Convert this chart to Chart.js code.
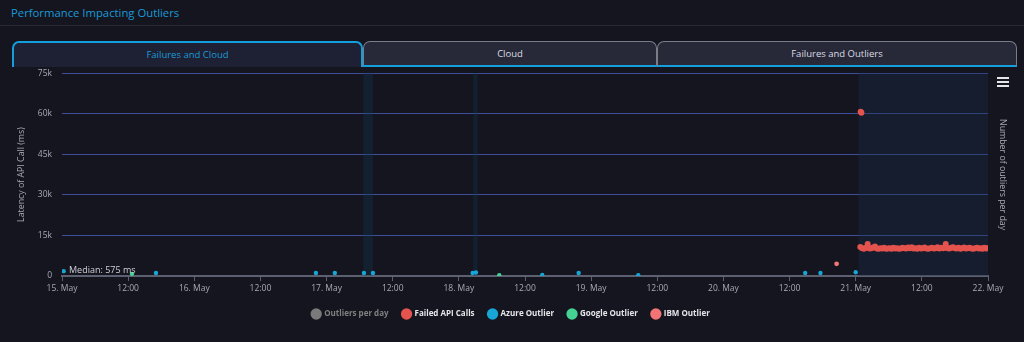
<!DOCTYPE html>
<html>
<head>
<meta charset="utf-8">
<script src="https://cdn.jsdelivr.net/npm/chart.js@4.4.1/dist/chart.umd.min.js"></script>
<style>
    html, body { margin: 0; padding: 0; background: #14151f; width: 1024px; height: 342px; overflow: hidden; font-family: 'Open Sans', sans-serif; }
    .title { position: absolute; left: 11px; top: 5px; color: #1a9ad6; font-size: 11.3px; }
    .divider { position: absolute; left: 0; top: 25px; width: 1024px; height: 1px; background: #262836; }
    .tab { position: absolute; top: 41px; height: 26px; box-sizing: border-box; text-align: center; line-height: 24px; font-size: 9.5px; border-radius: 7px 7px 0 0; z-index: 2; }
    .tab.active { background: #1e2033; border: 2px solid #129fdc; border-bottom: none; color: #1a9ad6; }
    .tab.idle { background: #272939; border: 1px solid #7a7c88; border-bottom: 2px solid #129fdc; color: #dcdce2; }
    .menu { position: absolute; left: 997px; top: 77px; width: 12px; z-index: 2; }
    .menu div { height: 2px; background: #e6e6ea; margin-bottom: 2px; }
    #wrap { position: absolute; left: 0; top: 58px; width: 1024px; height: 284px; }
</style>
</head>
<body>
<div id="wrap"><canvas id="chart" width="1024" height="284"></canvas></div>
<div class="title">Performance Impacting Outliers</div>
<div class="divider"></div>
<div class="tab active" style="left:12px; width:351px;">Failures and Cloud</div>
<div class="tab idle" style="left:363px; width:294px;">Cloud</div>
<div class="tab idle" style="left:657px; width:360px;">Failures and Outliers</div>
<div class="menu"><div></div><div></div><div></div></div>

<script>
// times are "DD HH:MM" in May
const azureTimes = ['15 00:18', '15 17:03', '16 22:04', '17 01:30', '17 06:47', '17 08:25', '18 02:30', '18 03:06', '18 15:08', '18 21:44', '19 08:33', '20 14:50', '20 17:36', '21 00:00'];
const azureValues = [1800, 1100, 1100, 1100, 1100, 1100, 1100, 1300, 400, 1100, 300, 1100, 1100, 1400];

const googleTimes = ['15 12:42', '18 07:20'];
const googleValues = [800, 250];

const ibmTimes = ['20 20:32'];
const ibmValues = [4500];

const failedTimes = ['21 00:54', '21 01:02',
    '21 00:50', '21 01:10', '21 01:30', '21 01:50', '21 02:10', '21 02:30', '21 02:50', '21 03:10', '21 03:30', '21 03:50',
    '21 04:10', '21 04:30', '21 04:50', '21 05:10', '21 05:30', '21 05:50', '21 06:10', '21 06:30', '21 06:50', '21 07:10',
    '21 07:30', '21 07:50', '21 08:10', '21 08:30', '21 08:50', '21 09:10', '21 09:30', '21 09:50', '21 10:10', '21 10:30',
    '21 10:50', '21 11:10', '21 11:30', '21 11:50', '21 12:10', '21 12:30', '21 12:50', '21 13:10', '21 13:30', '21 13:50',
    '21 14:10', '21 14:30', '21 14:50', '21 15:10', '21 15:30', '21 15:50', '21 16:10', '21 16:20', '21 16:40', '21 17:00',
    '21 17:20', '21 17:40', '21 18:00', '21 18:20', '21 18:40', '21 19:00', '21 19:20', '21 19:40', '21 20:00', '21 20:20',
    '21 20:40', '21 21:00', '21 21:20', '21 21:40', '21 22:00', '21 22:20', '21 22:40', '21 23:00', '21 23:20', '21 23:40', '21 23:55'];
const failedValues = [60700, 60300,
    10700, 10300, 10100, 10400, 11800, 10200, 10300, 10500, 10900, 10200,
    10100, 10300, 10200, 10400, 10100, 10200, 10300, 10100, 10400, 10200,
    10300, 10100, 10200, 10400, 10300, 10200, 10500, 10300, 10600, 10200,
    10300, 10100, 10400, 10200, 10300, 10500, 10200, 10100, 10300, 10400,
    10200, 10300, 10600, 10200, 10400, 10300, 10500, 11800, 10300, 10200,
    10400, 10600, 10300, 10200, 10400, 10100, 10300, 10500, 10200, 10300,
    10400, 10200, 10100, 10300, 10400, 10200, 10300, 10100, 10400, 10200, 10300];

// shaded periods
const bandStarts = ['17 06:40', '18 02:36', '21 00:30'];
const bandEnds = ['17 08:25', '18 03:24', '22 00:00'];

const yTicks = [0, 15000, 30000, 45000, 60000, 75000];
const medianValue = 575;

// hours since 15 May 00:00
function toHours(s) {
    const parts = s.split(' ');
    const hm = parts[1].split(':');
    return (parseInt(parts[0]) - 15) * 24 + parseInt(hm[0]) + parseInt(hm[1]) / 60;
}

function toPoints(times, values) {
    return times.map((t, i) => ({ x: toHours(t), y: values[i] }));
}

const bandsPlugin = {
    id: 'bands',
    beforeDatasetsDraw(chart) {
        const ctx = chart.ctx;
        const xs = chart.scales.x;
        const area = chart.chartArea;
        ctx.save();
        bandStarts.forEach((s, i) => {
            const x1 = xs.getPixelForValue(toHours(s));
            const x2 = xs.getPixelForValue(toHours(bandEnds[i]));
            ctx.fillStyle = i < 2 ? 'rgba(20, 60, 90, 0.3)' : 'rgba(25, 45, 75, 0.35)';
            ctx.fillRect(x1, area.top, x2 - x1, area.bottom - area.top);
        });
        ctx.restore();
    },
    afterDatasetsDraw(chart) {
        const ctx = chart.ctx;
        const x = chart.scales.x.getPixelForValue(0) + 7;
        const y = chart.scales.y.getPixelForValue(medianValue) - 4;
        ctx.save();
        ctx.font = "9px 'Open Sans', sans-serif";
        ctx.fillStyle = '#cfd0d6';
        ctx.textBaseline = 'middle';
        ctx.fillText('Median: ' + medianValue + ' ms', x, y);
        ctx.restore();
    }
};

Chart.defaults.font.family = "'Open Sans', sans-serif";
Chart.defaults.color = '#a9aab3';

const ctx = document.getElementById('chart').getContext('2d');
const outlierChart = new Chart(ctx, {
    type: 'scatter',
    data: {
        datasets: [
            { label: 'Outliers per day', data: [], backgroundColor: '#7a7a7a', borderColor: '#7a7a7a', hidden: true, yAxisID: 'y2' },
            { label: 'Failed API Calls', data: toPoints(failedTimes, failedValues), backgroundColor: '#e4534d', borderColor: '#e4534d', pointRadius: 3, pointBorderWidth: 0, yAxisID: 'y' },
            { label: 'Azure Outlier', data: toPoints(azureTimes, azureValues), backgroundColor: '#17a6d6', borderColor: '#17a6d6', pointRadius: 2.2, pointBorderWidth: 0, yAxisID: 'y' },
            { label: 'Google Outlier', data: toPoints(googleTimes, googleValues), backgroundColor: '#45d394', borderColor: '#45d394', pointRadius: 2.2, pointBorderWidth: 0, yAxisID: 'y' },
            { label: 'IBM Outlier', data: toPoints(ibmTimes, ibmValues), backgroundColor: '#f27474', borderColor: '#f27474', pointRadius: 2.4, pointBorderWidth: 0, yAxisID: 'y' }
        ]
    },
    options: {
        responsive: false,
        animation: false,
        layout: { padding: { left: 12, right: 14, top: 7, bottom: 14 } },
        plugins: {
            tooltip: { enabled: false },
            legend: {
                position: 'bottom',
                padding: 8,
                labels: {
                    usePointStyle: true,
                    pointStyle: 'circle',
                    boxWidth: 8,
                    boxHeight: 8,
                    padding: 14,
                    color: '#e6e6ea',
                    font: { size: 8, weight: 'bold' },
                    generateLabels(chart) {
                        return chart.data.datasets.map((ds, i) => ({
                            text: ds.label,
                            fillStyle: ds.backgroundColor,
                            strokeStyle: ds.backgroundColor,
                            lineWidth: 0,
                            pointStyle: 'circle',
                            hidden: false,
                            fontColor: i === 0 ? '#808080' : '#e6e6ea',
                            datasetIndex: i
                        }));
                    }
                }
            }
        },
        scales: {
            x: {
                type: 'linear',
                min: 0,
                max: 168,
                afterFit(scale) { scale.height = 20; },
                ticks: {
                    stepSize: 12,
                    autoSkip: false,
                    maxRotation: 0,
                    padding: 2,
                    color: '#a9aab3',
                    font: { size: 8.5 },
                    callback: v => v % 24 === 0 ? (15 + v / 24) + '. May' : '12:00'
                },
                grid: { drawOnChartArea: false, tickLength: 5, color: '#5d6070' },
                border: { color: '#5d6070', width: 2 }
            },
            y: {
                position: 'left',
                min: 0,
                max: 75000,
                afterFit(scale) { scale.width = 50; },
                afterBuildTicks(scale) { scale.ticks = yTicks.map(v => ({ value: v })); },
                ticks: {
                    padding: 10,
                    color: '#a9aab3',
                    font: { size: 8.5 },
                    callback: v => v === 0 ? '0' : (v / 1000) + 'k'
                },
                grid: { drawTicks: false, color: '#3d4f98' },
                border: { display: false },
                title: { display: true, text: 'Latency of API Call (ms)', color: '#a9aab3', font: { size: 8.8 }, padding: 4 }
            },
            y2: {
                position: 'right',
                min: 0,
                max: 10,
                afterFit(scale) { scale.width = 22; },
                ticks: { display: false },
                grid: { display: false },
                border: { display: false },
                title: { display: true, text: 'Number of outliers per day', color: '#a9aab3', font: { size: 8.8 }, padding: 2 }
            }
        }
    },
    plugins: [bandsPlugin]
});
</script>
</body>
</html>
